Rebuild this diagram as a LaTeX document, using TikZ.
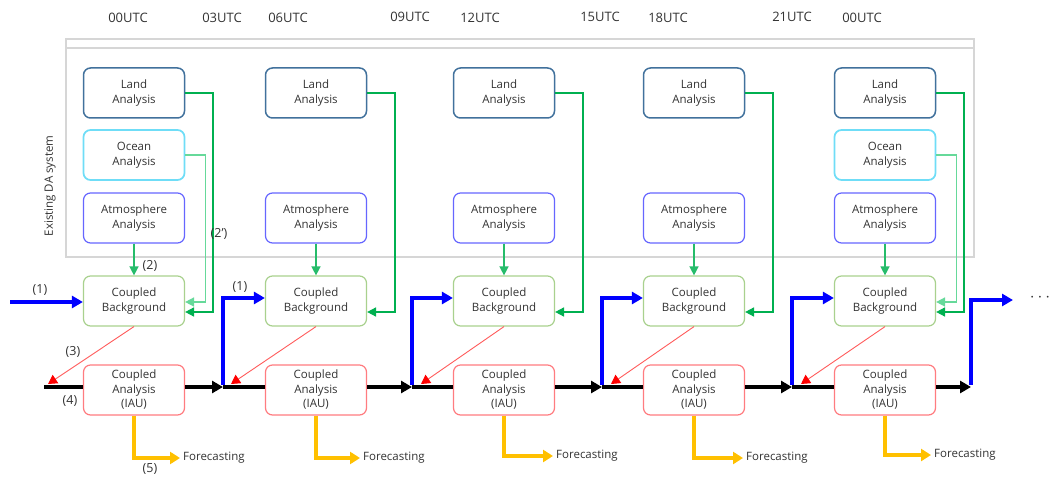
\documentclass[tikz,border=0pt]{standalone}
\usepackage{fontspec}
\setmainfont{Open Sans}
\usetikzlibrary{arrows.meta,calc}
\definecolor{landc}{HTML}{41719C}
\definecolor{oceanc}{HTML}{6FDDF7}
\definecolor{atmc}{HTML}{6666FF}
\definecolor{bgc}{HTML}{A9D18E}
\definecolor{anc}{HTML}{FF7C80}
\definecolor{gdark}{HTML}{00B050}
\definecolor{glight}{HTML}{66D99A}
\definecolor{redc}{HTML}{FF5B5B}
\definecolor{orangec}{HTML}{FFC000}
\definecolor{txt}{HTML}{333333}
\definecolor{framec}{HTML}{D6D6D6}
\tikzset{
  box/.style={rounded corners=7pt, minimum width=101pt, minimum height=50pt,
    align=center, fill=white, line width=1.2pt, text=txt,
    font=\fontsize{11.5}{14.5}\selectfont, inner sep=1pt},
  landbox/.style={box, draw=landc, line width=1.5pt},
  oceanbox/.style={box, draw=oceanc, line width=1.7pt},
  atmbox/.style={box, draw=atmc},
  bgbox/.style={box, draw=bgc},
  anbox/.style={box, draw=anc},
  lbl/.style={text=txt, font=\fontsize{12.5}{14}\selectfont, inner sep=0pt},
  utc/.style={text=txt, font=\fontsize{13}{15}\selectfont, inner sep=0pt},
  fctext/.style={text=txt, font=\fontsize{11.5}{14}\selectfont, anchor=west, inner sep=3pt},
  landarrow/.style={draw=gdark, line width=1.7pt, -{Triangle[width=9pt,length=9pt]}},
  oceanarrow/.style={draw=glight, line width=1.6pt, -{Triangle[width=9pt,length=9pt]}},
  atmarrow/.style={draw=gdark!85!white, line width=1.4pt, -{Triangle[width=9pt,length=9pt]}},
  bluearrow/.style={draw=blue, line width=4pt, -{Triangle[width=12pt,length=11pt]}},
  blackline/.style={draw=black, line width=4pt},
  blackarrow/.style={blackline, -{Triangle[width=12pt,length=11pt]}},
  redarrow/.style={draw=redc, line width=0.9pt, -{Triangle[width=10pt,length=9pt,fill=red,color=red]}},
  fcarrow/.style={draw=orangec, line width=3.5pt, -{Triangle[width=12pt,length=10pt]}},
}
\begin{document}
\begin{tikzpicture}[x=1pt,y=-1pt]
\useasboundingbox (0,0) rectangle (1049,478);
\fill[white] (0,0) rectangle (1049,478);
% frame
\draw[framec, line width=1.3pt] (66,39) rectangle (974,257);
\draw[framec, line width=1.3pt] (66,48) -- (974,48);
\node[lbl, rotate=90, font=\fontsize{11.5}{13}\selectfont] (EX) at (50,186) {Existing DA system};
% time labels
\node[utc] (T0) at (128,18) {00UTC};
\node[utc] (T1) at (222,18) {03UTC};
\node[utc] (T2) at (288,18) {06UTC};
\node[utc] (T3) at (410,17) {09UTC};
\node[utc] (T4) at (480,18) {12UTC};
\node[utc] (T5) at (600,17) {15UTC};
\node[utc] (T6) at (668,18) {18UTC};
\node[utc] (T7) at (792,17) {21UTC};
\node[utc] (T8) at (862,18) {00UTC};
% boxes
\foreach \i/\x in {1/134,2/316,3/504,4/694,5/885}{
  \node[landbox] (L\i) at (\x,93) {Land\\Analysis};
  \node[atmbox] (A\i) at (\x,218) {Atmosphere\\Analysis};
  \node[bgbox] (B\i) at (\x,301) {Coupled\\Background};
  \node[anbox] (C\i) at (\x,390) {Coupled\\Analysis\\(IAU)};
}
\node[oceanbox] (O1) at (134,155) {Ocean\\Analysis};
\node[oceanbox] (O5) at (885,155) {Ocean\\Analysis};
% green arrows
\foreach \i in {1,...,5}{
  \draw[atmarrow] (A\i.south) -- (B\i.north);
  \draw[landarrow] (L\i.east) -- ++(28,0) |- ([yshift=-11pt]B\i.east);
}
\draw[oceanarrow] (O1.east) -- ++(20,0) |- ([yshift=-1pt]B1.east);
\draw[oceanarrow] (O5.east) -- ++(20,0) |- ([yshift=-1pt]B5.east);
% black time line
\coordinate (S) at (44,387);
\coordinate (J2) at (223,387);
\coordinate (J3) at (412,387);
\coordinate (J4) at (602,387);
\coordinate (J5) at (792,387);
\coordinate (J6) at (971,387);
\draw[blackline] (S) -- (S -| C1.west);
\draw[blackarrow] (J2 -| C1.east) -- (J2);
\draw[blackline] (J2) -- (J2 -| C2.west);
\draw[blackarrow] (J3 -| C2.east) -- (J3);
\draw[blackline] (J3) -- (J3 -| C3.west);
\draw[blackarrow] (J4 -| C3.east) -- (J4);
\draw[blackline] (J4) -- (J4 -| C4.west);
\draw[blackarrow] (J5 -| C4.east) -- (J5);
\draw[blackline] (J5) -- (J5 -| C5.west);
\draw[blackarrow] (J6 -| C5.east) -- (J6);
% blue arrows
\coordinate (BS) at (10,302);
\draw[bluearrow] (BS) -- (BS -| B1.west);
\draw[bluearrow] ([yshift=2pt]J2) |- ([yshift=3pt]B2.west);
\draw[bluearrow] ([yshift=2pt]J3) |- ([yshift=3pt]B3.west);
\draw[bluearrow] ([yshift=2pt]J4) |- ([yshift=3pt]B4.west);
\draw[bluearrow] ([yshift=2pt]J5) |- ([yshift=3pt]B5.west);
\coordinate (E) at (1013,300);
\draw[bluearrow] ([yshift=2pt]J6) |- (E);
\node[text=txt, font=\fontsize{18}{18}\selectfont, inner sep=0pt] (DOTS) at (1040,298) {$\cdots$};
% red arrows
\coordinate (R1) at (48,384);
\coordinate (R2) at (231,384);
\coordinate (R3) at (421,384);
\coordinate (R4) at (611,384);
\coordinate (R5) at (801,384);
\foreach \i in {1,...,5}{
  \draw[redarrow] (B\i.south) -- (R\i);
}
% forecasting
\node[fctext] (F1) at (180,458) {Forecasting};
\node[fctext] (F2) at (360,458) {Forecasting};
\node[fctext] (F3) at (553,456) {Forecasting};
\node[fctext] (F4) at (743,458) {Forecasting};
\node[fctext] (F5) at (931,455) {Forecasting};
\foreach \i in {1,...,5}{
  \draw[fcarrow] (C\i.south) |- (F\i.west);
}
% labels
\node[lbl] (N1a) at (40,290) {(1)};
\node[lbl] (N1b) at (240,287) {(1)};
\node[lbl] (N2) at (150,266) {(2)};
\node[lbl] (N2p) at (219,234) {(2')};
\node[lbl] (N3) at (73,352) {(3)};
\node[lbl] (N4) at (70,401) {(4)};
\node[lbl] (N5) at (150,469) {(5)};
\end{tikzpicture}
\end{document}
